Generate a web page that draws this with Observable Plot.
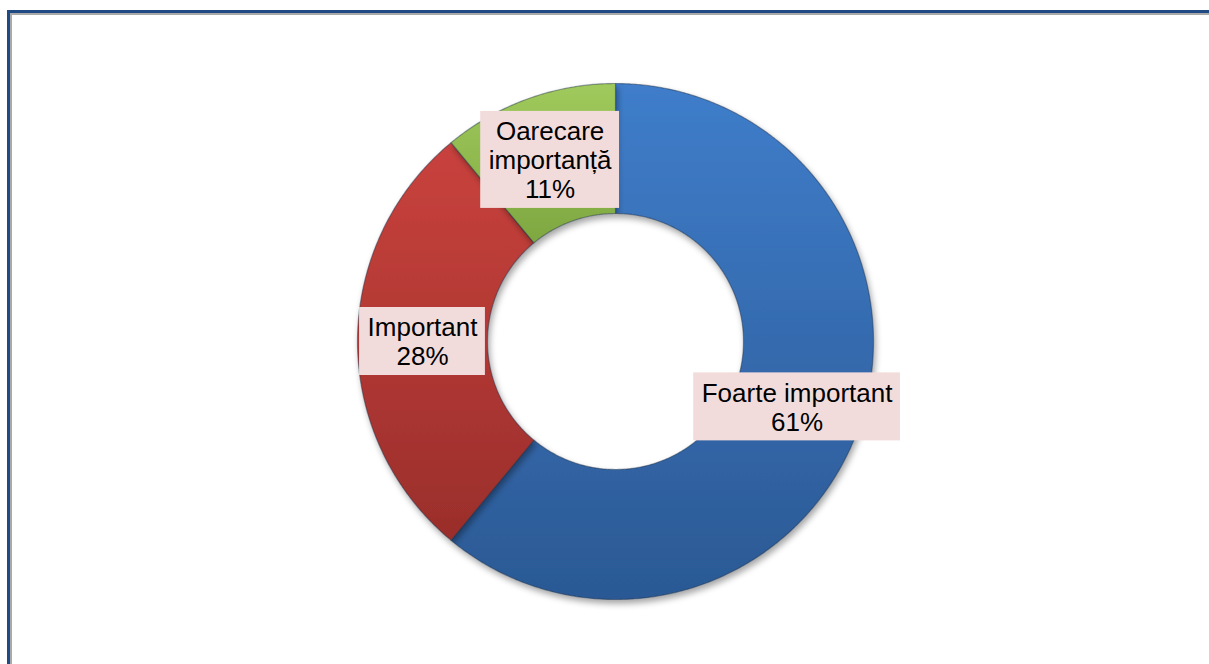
<!DOCTYPE html>
<html><head><meta charset="utf-8">
<script src="https://cdn.jsdelivr.net/npm/d3@7"></script>
<script src="https://cdn.jsdelivr.net/npm/@observablehq/plot@0.6"></script>
<style>
html,body{margin:0;padding:0;background:#fff;width:1209px;height:664px;overflow:hidden;}
#chart{position:absolute;left:0;top:0;}
#frame{position:absolute;left:7px;top:10px;width:1300px;height:800px;border-top:3px solid #1f4a84;border-left:3px solid #1f4a84;box-sizing:border-box;}
#frame2{position:absolute;left:10px;top:13px;width:1300px;height:800px;border-top:2px solid #a9a9a9;border-left:2px solid #a9a9a9;box-sizing:border-box;}
</style>
</head><body>
<div id="chart"></div>
<div id="frame"></div><div id="frame2"></div>
<script>
// ---- data ----
const categories = ["Foarte important", "Important", "Oarecare importanță"];
const values = [61, 28, 11];
const percentLabels = ["61%", "28%", "11%"];
const labelText = ["Foarte important", "Important", "Oarecare\nimportanță"];

// ---- styles ----
const colorsTop = ["#3f7dca", "#c9423d", "#a0ca5c"];
const colorsBottom = ["#2b5994", "#9a2e2b", "#7fa741"];

const W = 1209, H = 664;
const cx = 615, cy = 341, rOuter = 258, rInner = 128;
const fontSize = 26, lineH = 29;

const data = categories.map((c, i) => ({cat: c, value: values[i], i}));
const arcs = d3.pie().sort(null).value(d => d.value)(data);
const arcGen = d3.arc().innerRadius(rInner).outerRadius(rOuter);

// polygon outline for each slice (from the pie angles)
function slicePoints(a) {
  const pts = [];
  const n = Math.max(8, Math.ceil((a.endAngle - a.startAngle) / (Math.PI / 360)));
  for (let k = 0; k <= n; k++) {
    const t = a.startAngle + (a.endAngle - a.startAngle) * k / n;
    pts.push({x: cx + rOuter * Math.sin(t), y: cy - rOuter * Math.cos(t)});
  }
  for (let k = n; k >= 0; k--) {
    const t = a.startAngle + (a.endAngle - a.startAngle) * k / n;
    pts.push({x: cx + rInner * Math.sin(t), y: cy - rInner * Math.cos(t)});
  }
  pts.push(pts[0]);
  return pts;
}

// measure text widths for label boxes
const ctx = document.createElement("canvas").getContext("2d");
ctx.font = `${fontSize}px "Liberation Sans", Arial, sans-serif`;
const labels = arcs.map((a, i) => {
  const c = arcGen.centroid(a);
  const lines = (labelText[i] + "\n" + percentLabels[i]).split("\n");
  const w = d3.max(lines, l => ctx.measureText(l).width);
  const h = lines.length * lineH;
  const x = cx + c[0], y = cy + c[1];
  return {text: lines.join("\n"), x, y, x1: x - w / 2 - 8, x2: x + w / 2 + 8, y1: y - h / 2 - 5, y2: y + h / 2 + 5};
});

const defsMark = () => {
  const defs = d3.create("svg:defs");
  arcs.forEach((a, i) => {
    const g = defs.append("linearGradient").attr("id", "g" + i).attr("x1", 0).attr("y1", 0).attr("x2", 0).attr("y2", 1);
    g.append("stop").attr("offset", "0%").attr("stop-color", colorsTop[i]);
    g.append("stop").attr("offset", "100%").attr("stop-color", colorsBottom[i]);
  });
  const f = defs.append("filter").attr("id", "shadow").attr("x", "-10%").attr("y", "-10%").attr("width", "120%").attr("height", "120%");
  f.append("feDropShadow").attr("dx", 2).attr("dy", 4).attr("stdDeviation", 3).attr("flood-color", "#000").attr("flood-opacity", 0.35);
  return defs.node();
};

const sliceMarks = arcs.map((a, i) => Plot.line(slicePoints(a), {
  x: "x", y: "y", fill: `url(#g${i})`, stroke: "#1c2f48", strokeOpacity: 0.45, strokeWidth: 1.2, curve: "linear"
}));

const plot = Plot.plot({
  width: W, height: H,
  margin: 0,
  x: {domain: [0, W], range: [0, W], axis: null},
  y: {domain: [0, H], range: [0, H], axis: null},
  style: {background: "transparent"},
  marks: [
    defsMark,
    ...sliceMarks,
    Plot.rect(labels, {x1: "x1", x2: "x2", y1: "y1", y2: "y2", fill: "#f2dcdb"}),
    Plot.text(labels, {x: "x", y: "y", text: "text", fontSize, lineHeight: lineH / fontSize,
      fontFamily: '"Liberation Sans", Arial, sans-serif', fill: "#000"})
  ]
});
d3.select(plot).selectAll('g[aria-label="line"]').attr("filter", "url(#shadow)");
document.getElementById("chart").appendChild(plot);
</script>
</body></html>
